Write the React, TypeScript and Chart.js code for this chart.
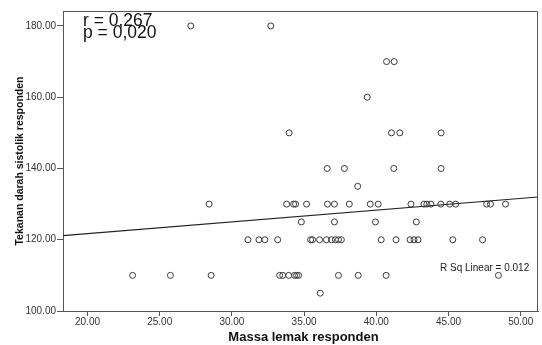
import React, { useEffect, useRef } from "react";
import { Chart, registerables } from "chart.js";

Chart.register(...registerables);

// Massa lemak (x) values grouped by Tekanan darah sistolik (y) level
const x180 = [27.15, 32.69];
const x170 = [40.71, 41.24];
const x160 = [39.37];
const x150 = [33.96, 41.05, 41.63, 44.49];
const x140 = [36.6, 37.79, 41.21, 44.49];
const x135 = [38.71];
const x130 = [28.42, 33.79, 34.27, 34.41, 35.17, 36.62, 37.1, 38.13, 39.58, 40.13, 42.4, 43.3, 43.5, 43.78, 44.47, 45.09, 45.5, 47.64, 47.91, 48.95];
const x125 = [34.81, 37.1, 39.94, 42.77];
const x120 = [31.11, 31.87, 32.28, 33.17, 35.45, 35.58, 36.07, 36.55, 36.89, 37.17, 37.38, 37.58, 40.34, 41.37, 42.34, 42.61, 42.89, 45.3, 47.36];
const x110 = [23.12, 25.74, 28.56, 33.31, 33.52, 33.93, 34.34, 34.48, 34.62, 37.38, 38.75, 40.68, 48.46];
const x105 = [36.12];

const yLevels = [180, 170, 160, 150, 140, 135, 130, 125, 120, 110, 105];
const xGroups = [x180, x170, x160, x150, x140, x135, x130, x125, x120, x110, x105];

const xTickValues = [20, 25, 30, 35, 40, 45, 50];
const yTickValues = [100, 120, 140, 160, 180];

const xMin = 18.3;
const xMax = 51.2;
const yMin = 100;
const yMax = 184.2;

const fitIntercept = 115.1;
const fitSlope = 0.33;

const statR = "r = 0,267";
const statP = "p = 0,020";
const rSqLabel = "R Sq Linear = 0.012";
const xTitle = "Massa lemak responden";
const yTitle = "Tekanan darah sistolik responden";

const FONT = "'Liberation Sans', Arial, sans-serif";

export default function App() {
  const ref = useRef<HTMLCanvasElement | null>(null);

  useEffect(() => {
    const canvas = ref.current;
    if (!canvas) return;

    const points: { x: number; y: number }[] = [];
    yLevels.forEach((yv, i) => {
      xGroups[i].forEach((xv) => points.push({ x: xv, y: yv }));
    });

    const fitLine = [
      { x: xMin, y: fitIntercept + fitSlope * xMin },
      { x: xMax, y: fitIntercept + fitSlope * xMax },
    ];

    const overlay = {
      id: "overlay",
      afterDraw(chart: any) {
        const { ctx, chartArea } = chart;
        ctx.save();
        // frame
        ctx.strokeStyle = "#555";
        ctx.lineWidth = 1;
        ctx.beginPath();
        ctx.moveTo(chartArea.left, chartArea.top + 0.5);
        ctx.lineTo(chartArea.right - 0.5, chartArea.top + 0.5);
        ctx.lineTo(chartArea.right - 0.5, chartArea.bottom);
        ctx.stroke();

        // r / p text
        ctx.fillStyle = "#111";
        ctx.textAlign = "left";
        ctx.textBaseline = "alphabetic";
        ctx.font = `17.5px ${FONT}`;
        ctx.fillText(statR, 83, 26);
        ctx.fillText(statP, 83, 38);

        // R Sq Linear
        ctx.font = `10px ${FONT}`;
        ctx.fillStyle = "#222";
        ctx.fillText(rSqLabel, 440, 271);

        // x title
        ctx.font = `bold 13px ${FONT}`;
        ctx.fillStyle = "#111";
        ctx.textAlign = "center";
        ctx.fillText(xTitle, (chartArea.left + chartArea.right) / 2 + 3, 341);

        // y title
        ctx.save();
        ctx.translate(22.5, (chartArea.top + chartArea.bottom) / 2);
        ctx.rotate(-Math.PI / 2);
        ctx.font = `bold 10.5px ${FONT}`;
        ctx.textAlign = "center";
        ctx.fillText(yTitle, 0, 0);
        ctx.restore();

        ctx.restore();
      },
    };

    const chart = new Chart(canvas, {
      type: "scatter",
      data: {
        datasets: [
          {
            data: points,
            pointRadius: 3,
            pointStyle: "circle",
            borderColor: "#3a3a3a",
            backgroundColor: "rgba(0,0,0,0)",
            borderWidth: 1,
            pointHoverRadius: 3,
          },
          {
            data: fitLine,
            showLine: true,
            borderColor: "#222",
            borderWidth: 1.2,
            pointRadius: 0,
            fill: false,
          } as any,
        ],
      },
      options: {
        responsive: false,
        animation: false,
        events: [],
        layout: { padding: { top: 11, right: 1, left: 0, bottom: 0 } },
        plugins: {
          legend: { display: false },
          tooltip: { enabled: false },
        },
        scales: {
          x: {
            type: "linear",
            min: xMin,
            max: xMax,
            afterBuildTicks: (s: any) => {
              s.ticks = xTickValues.map((v) => ({ value: v }));
            },
            afterFit: (s: any) => {
              s.height = 34;
            },
            ticks: {
              callback: (v: any) => Number(v).toFixed(2),
              font: { family: FONT, size: 10 },
              color: "#333",
              padding: 0,
              maxRotation: 0,
              autoSkip: false,
            },
            grid: { drawOnChartArea: false, drawTicks: true, tickLength: 5, color: "#555" },
            border: { display: true, color: "#555", width: 1 },
          },
          y: {
            type: "linear",
            min: yMin,
            max: yMax,
            afterBuildTicks: (s: any) => {
              s.ticks = yTickValues.map((v) => ({ value: v }));
            },
            afterFit: (s: any) => {
              s.width = 63;
            },
            ticks: {
              callback: (v: any) => Number(v).toFixed(2),
              font: { family: FONT, size: 10 },
              color: "#333",
              padding: 1,
              autoSkip: false,
            },
            grid: { drawOnChartArea: false, drawTicks: true, tickLength: 6, color: "#555" },
            border: { display: true, color: "#555", width: 1 },
          },
        },
      },
      plugins: [overlay],
    });

    return () => chart.destroy();
  }, []);

  return (
    <div style={{ position: "fixed", left: 0, top: 0, width: 542, height: 345, background: "#fff" }}>
      <canvas ref={ref} width={542} height={345} style={{ width: 542, height: 345, display: "block" }} />
    </div>
  );
}
